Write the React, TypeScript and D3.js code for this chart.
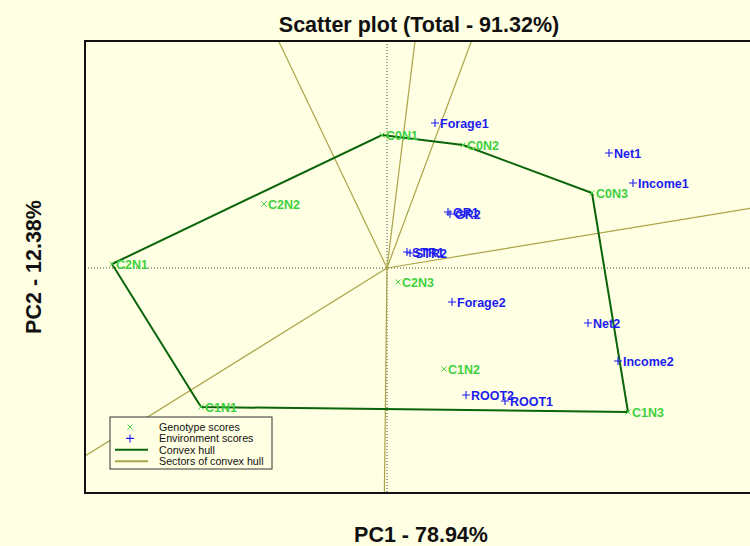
import React, { useEffect, useRef } from 'react';
import * as d3 from 'd3';

// genotype scores (PC1, PC2)
const genoNames = ['C0N1', 'C0N2', 'C0N3', 'C2N2', 'C2N1', 'C2N3', 'C1N1', 'C1N2', 'C1N3'];
const genoPC1 = [-0.05, 0.76, 2.05, -1.23, -2.75, 0.11, -1.86, 0.57, 2.41];
const genoPC2 = [1.33, 1.23, 0.75, 0.64, 0.04, -0.14, -1.39, -1.01, -1.44];

// environment scores (PC1, PC2)
const envNames = ['Forage1', 'Net1', 'Income1', 'GR1', 'GR2', 'STR1', 'STR2', 'Forage2', 'Net2', 'Income2', 'ROOT2', 'ROOT1'];
const envPC1 = [0.48, 2.22, 2.46, 0.61, 0.63, 0.2, 0.23, 0.65, 2.01, 2.31, 0.79, 1.18];
const envPC2 = [1.45, 1.15, 0.85, 0.56, 0.54, 0.16, 0.15, -0.34, -0.55, -0.93, -1.27, -1.33];

const legendLabels = ['Genotype scores', 'Environment scores', 'Convex hull', 'Sectors of convex hull'];

const GENO_COL = '#3fd03f';
const ENV_COL = '#1c1cf0';
const HULL_COL = '#0a640a';
const SECTOR_COL = '#aaa44a';

export default function App() {
  const svgRef = useRef<SVGSVGElement>(null);

  useEffect(() => {
    const svg = d3.select(svgRef.current);
    svg.selectAll('*').remove();
    const width = 750,
      height = 546;
    const margin = { top: 41, right: -2, bottom: 53, left: 85 };

    svg.append('rect').attr('width', width).attr('height', height).attr('fill', '#ffffe3');

    const x = d3.scaleLinear().domain([-3.02, 3.65]).range([margin.left, width - margin.right]);
    const y = d3.scaleLinear().domain([-2.25, 2.27]).range([height - margin.bottom, margin.top]);

    svg
      .append('clipPath')
      .attr('id', 'plotclip')
      .append('rect')
      .attr('x', margin.left)
      .attr('y', margin.top)
      .attr('width', width - margin.right - margin.left)
      .attr('height', height - margin.bottom - margin.top);

    const g = svg.append('g').attr('clip-path', 'url(#plotclip)');

    // dotted axes through origin
    g.append('line')
      .attr('x1', x(0)).attr('x2', x(0))
      .attr('y1', margin.top).attr('y2', height - margin.bottom)
      .attr('stroke', '#444').attr('stroke-dasharray', '1,2');
    g.append('line')
      .attr('x1', margin.left).attr('x2', width - margin.right)
      .attr('y1', y(0)).attr('y2', y(0))
      .attr('stroke', '#444').attr('stroke-dasharray', '1,2');

    // convex hull of genotypes
    const genoPts: [number, number][] = genoPC1.map((v, i) => [v, genoPC2[i]]);
    const hull = d3.polygonHull(genoPts) as [number, number][];

    // sector lines: rays from origin perpendicular to each hull edge
    hull.forEach((p, i) => {
      const q = hull[(i + 1) % hull.length];
      const dx = q[0] - p[0],
        dy = q[1] - p[1];
      const t = -(p[0] * dx + p[1] * dy) / (dx * dx + dy * dy);
      const fx = p[0] + t * dx,
        fy = p[1] + t * dy;
      const len = Math.hypot(fx, fy);
      const k = 20 / len;
      g.append('line')
        .attr('x1', x(0)).attr('y1', y(0))
        .attr('x2', x(fx * k)).attr('y2', y(fy * k))
        .attr('stroke', SECTOR_COL).attr('stroke-width', 1.2);
    });

    g.append('path')
      .attr('d', d3.line()(hull.map((d) => [x(d[0]), y(d[1])])) + 'Z')
      .attr('fill', 'none')
      .attr('stroke', HULL_COL)
      .attr('stroke-width', 2);

    // genotype points
    genoNames.forEach((name, i) => {
      const px = x(genoPC1[i]),
        py = y(genoPC2[i]);
      const s = 2.6;
      g.append('path')
        .attr('d', `M${px - s},${py - s}L${px + s},${py + s}M${px - s},${py + s}L${px + s},${py - s}`)
        .attr('stroke', GENO_COL).attr('stroke-width', 0.9);
      g.append('text')
        .attr('x', px + 4).attr('y', py).attr('dy', '0.36em')
        .attr('fill', GENO_COL)
        .attr('font-weight', 'bold').attr('font-size', 12.5)
        .text(name);
    });

    // environment points
    envNames.forEach((name, i) => {
      const px = x(envPC1[i]),
        py = y(envPC2[i]);
      const s = 4;
      g.append('path')
        .attr('d', `M${px - s},${py}L${px + s},${py}M${px},${py - s}L${px},${py + s}`)
        .attr('stroke', ENV_COL).attr('stroke-width', 1.1);
      g.append('text')
        .attr('x', px + 5).attr('y', py).attr('dy', '0.36em')
        .attr('fill', ENV_COL)
        .attr('font-weight', 'bold').attr('font-size', 12.5)
        .text(name);
    });

    // frame
    svg.append('rect')
      .attr('x', margin.left).attr('y', margin.top)
      .attr('width', width - margin.right - margin.left)
      .attr('height', height - margin.bottom - margin.top)
      .attr('fill', 'none').attr('stroke', '#111').attr('stroke-width', 2);

    // legend
    const lg = svg.append('g');
    lg.append('rect')
      .attr('x', 110).attr('y', 417).attr('width', 162).attr('height', 52)
      .attr('fill', '#ffffe3').attr('stroke', '#333').attr('stroke-width', 1);
    legendLabels.forEach((lab, i) => {
      const cy = 427 + i * 11.4;
      lg.append('text')
        .attr('x', 159).attr('y', cy).attr('dy', '0.36em')
        .attr('font-size', 10.7).attr('fill', '#111')
        .text(lab);
    });
    lg.append('path')
      .attr('d', 'M127.5,424.5L132.5,429.5M127.5,429.5L132.5,424.5')
      .attr('stroke', GENO_COL).attr('stroke-width', 0.9);
    lg.append('path')
      .attr('d', 'M126,438.4L134,438.4M130,434.4L130,442.4')
      .attr('stroke', ENV_COL).attr('stroke-width', 1.1);
    lg.append('line').attr('x1', 115).attr('x2', 148).attr('y1', 449.8).attr('y2', 449.8)
      .attr('stroke', HULL_COL).attr('stroke-width', 2);
    lg.append('line').attr('x1', 115).attr('x2', 148).attr('y1', 461.2).attr('y2', 461.2)
      .attr('stroke', SECTOR_COL).attr('stroke-width', 2);

    // titles
    svg.append('text')
      .attr('x', 419).attr('y', 32).attr('text-anchor', 'middle')
      .attr('font-weight', 'bold').attr('font-size', 21.5).attr('fill', '#111')
      .text('Scatter plot (Total - 91.32%)');
    svg.append('text')
      .attr('x', 421).attr('y', 542).attr('text-anchor', 'middle')
      .attr('font-weight', 'bold').attr('font-size', 21.5).attr('fill', '#111')
      .text('PC1 - 78.94%');
    svg.append('text')
      .attr('transform', `translate(41, 267) rotate(-90)`)
      .attr('text-anchor', 'middle')
      .attr('font-weight', 'bold').attr('font-size', 21.5).attr('fill', '#111')
      .text('PC2 - 12.38%');
  }, []);

  return (
    <svg
      ref={svgRef}
      width={750}
      height={546}
      style={{ position: 'absolute', left: 0, top: 0, fontFamily: 'Arial, "Liberation Sans", sans-serif' }}
    />
  );
}
